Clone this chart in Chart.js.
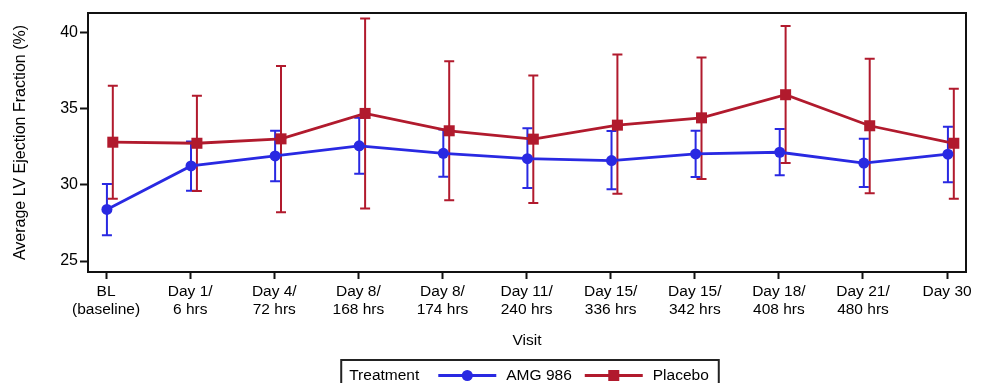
<!DOCTYPE html>
<html>
<head>
<meta charset="utf-8">
<script src="https://cdn.jsdelivr.net/npm/chart.js@4.4.1/dist/chart.umd.min.js"></script>
<style>
  body { margin: 0; background: #fff; }
</style>
</head>
<body>
<canvas id="chart" width="984" height="383"></canvas>
<script>
// visit labels (two lines each)
const visits = [
    ["BL", "(baseline)"],
    ["Day 1/", "6 hrs"],
    ["Day 4/", "72 hrs"],
    ["Day 8/", "168 hrs"],
    ["Day 8/", "174 hrs"],
    ["Day 11/", "240 hrs"],
    ["Day 15/", "336 hrs"],
    ["Day 15/", "342 hrs"],
    ["Day 18/", "408 hrs"],
    ["Day 21/", "480 hrs"],
    ["Day 30"],
];
const yTicks = [25, 30, 35, 40];

// AMG 986 mean and error bar ends
const amgMean = [28.39, 31.25, 31.91, 32.57, 32.08, 31.73, 31.60, 32.04, 32.15, 31.44, 32.02];
const amgLow  = [26.70, 29.62, 30.24, 30.74, 30.54, 29.80, 29.71, 30.52, 30.63, 29.86, 30.17];
const amgHigh = [30.06, 32.85, 33.56, 34.41, 33.64, 33.73, 33.54, 33.56, 33.67, 33.03, 33.82];

// Placebo mean and error bar ends
const pboMean = [32.81, 32.74, 33.03, 34.70, 33.56, 33.01, 33.93, 34.41, 35.93, 33.89, 32.74];
const pboLow  = [29.09, 29.60, 28.21, 28.46, 29.00, 28.81, 29.42, 30.39, 31.44, 29.45, 29.10];
const pboHigh = [36.52, 35.86, 37.82, 40.94, 38.13, 37.20, 38.57, 38.37, 40.44, 38.30, 36.33];

const blue = "#2929e2";
const red = "#b11a2d";
const font = "'Liberation Sans', Arial, sans-serif";
const fontSize = 15.5;

// small dodge so the two groups don't sit on top of each other
const amgShift = 0.01;
const pboShift = 0.08;

function toPoints(values, shift) {
    return values.map((v, i) => ({ x: i + shift, y: v }));
}

// draws vertical error bars with caps, using the chart scales
const errorBars = {
    id: "errorBars",
    beforeDatasetsDraw(chart) {
        const ctx = chart.ctx;
        const xs = chart.scales.x;
        const ys = chart.scales.y;
        const sets = [
            { low: amgLow, high: amgHigh, shift: amgShift, color: blue },
            { low: pboLow, high: pboHigh, shift: pboShift, color: red },
        ];
        ctx.save();
        ctx.lineWidth = 2;
        sets.forEach((s) => {
            ctx.strokeStyle = s.color;
            s.low.forEach((lo, i) => {
                const px = xs.getPixelForValue(i + s.shift);
                const y1 = ys.getPixelForValue(lo);
                const y2 = ys.getPixelForValue(s.high[i]);
                ctx.beginPath();
                ctx.moveTo(px, y1);
                ctx.lineTo(px, y2);
                ctx.moveTo(px - 5, y1);
                ctx.lineTo(px + 5, y1);
                ctx.moveTo(px - 5, y2);
                ctx.lineTo(px + 5, y2);
                ctx.stroke();
            });
        });
        ctx.restore();
    },
    afterDraw(chart) {
        const ctx = chart.ctx;
        const area = chart.chartArea;
        ctx.save();
        // frame round the plot
        ctx.strokeStyle = "#111";
        ctx.lineWidth = 2;
        ctx.strokeRect(area.left, area.top, area.right - area.left, area.bottom - area.top);

        // legend box
        ctx.font = fontSize + "px " + font;
        ctx.fillStyle = "#000";
        ctx.textBaseline = "middle";
        const items = [
            { label: "AMG 986", color: blue, marker: "circle" },
            { label: "Placebo", color: red, marker: "rect" },
        ];
        const title = "Treatment";
        const lineLen = 58;
        let total = 8 + ctx.measureText(title).width + 19;
        items.forEach((it, k) => {
            total += lineLen + 10 + ctx.measureText(it.label).width + (k < items.length - 1 ? 13 : 10);
        });
        const cx = (area.left + area.right) / 2 + 3;
        let x = cx - total / 2;
        const top = 360;
        const ty = 375.5;
        ctx.strokeStyle = "#222";
        ctx.lineWidth = 2;
        ctx.strokeRect(x, top, total, 40);
        x += 8;
        ctx.fillText(title, x, ty);
        x += ctx.measureText(title).width + 19;
        items.forEach((it) => {
            ctx.strokeStyle = it.color;
            ctx.fillStyle = it.color;
            ctx.lineWidth = 2.8;
            ctx.beginPath();
            ctx.moveTo(x, ty);
            ctx.lineTo(x + lineLen, ty);
            ctx.stroke();
            const mx = x + lineLen / 2;
            if (it.marker === "circle") {
                ctx.beginPath();
                ctx.arc(mx, ty, 5.5, 0, Math.PI * 2);
                ctx.fill();
            } else {
                ctx.fillRect(mx - 5.5, ty - 5.5, 11, 11);
            }
            x += lineLen + 10;
            ctx.fillStyle = "#000";
            ctx.fillText(it.label, x, ty);
            x += ctx.measureText(it.label).width + 13;
        });
        ctx.restore();
    },
};

const ctx = document.getElementById("chart").getContext("2d");
new Chart(ctx, {
    type: "line",
    data: {
        datasets: [
            {
                label: "AMG 986",
                data: toPoints(amgMean, amgShift),
                borderColor: blue,
                backgroundColor: blue,
                borderWidth: 2.8,
                pointStyle: "circle",
                pointRadius: 5.5,
                pointBorderWidth: 0,
                tension: 0,
            },
            {
                label: "Placebo",
                data: toPoints(pboMean, pboShift),
                borderColor: red,
                backgroundColor: red,
                borderWidth: 2.8,
                pointStyle: "rect",
                pointRadius: 7.8,
                pointBorderWidth: 0,
                tension: 0,
            },
        ],
    },
    options: {
        responsive: false,
        animation: false,
        layout: { padding: { top: 13, right: 18, bottom: 31, left: 0 } },
        plugins: {
            legend: { display: false },
            tooltip: { enabled: false },
        },
        scales: {
            x: {
                type: "linear",
                min: -0.215,
                max: 10.225,
                afterBuildTicks: (scale) => {
                    scale.ticks = visits.map((_, i) => ({ value: i }));
                },
                afterFit: (scale) => { scale.height = 80; },
                ticks: {
                    autoSkip: false,
                    maxRotation: 0,
                    padding: 3,
                    color: "#000",
                    font: { family: font, size: fontSize },
                    callback: (v) => visits[v],
                },
                grid: {
                    drawOnChartArea: false,
                    drawTicks: true,
                    tickLength: 7,
                    tickWidth: 2,
                    tickColor: "#111",
                },
                border: { display: false },
                title: {
                    display: true,
                    text: "Visit",
                    color: "#000",
                    font: { family: font, size: fontSize },
                    padding: { top: 0, bottom: 2 },
                },
            },
            y: {
                min: 24.28,
                max: 41.3,
                afterBuildTicks: (scale) => {
                    scale.ticks = yTicks.map((v) => ({ value: v }));
                },
                afterFit: (scale) => { scale.width = 88; },
                ticks: {
                    padding: 2,
                    color: "#000",
                    font: { family: font, size: 16 },
                },
                grid: {
                    drawOnChartArea: false,
                    drawTicks: true,
                    tickLength: 8,
                    tickWidth: 2,
                    tickColor: "#111",
                },
                border: { display: false },
                title: {
                    display: true,
                    text: "Average LV Ejection Fraction (%)",
                    color: "#000",
                    font: { family: font, size: 16 },
                    padding: { top: 11, bottom: 0 },
                },
            },
        },
    },
    plugins: [errorBars],
});
</script>
</body>
</html>
